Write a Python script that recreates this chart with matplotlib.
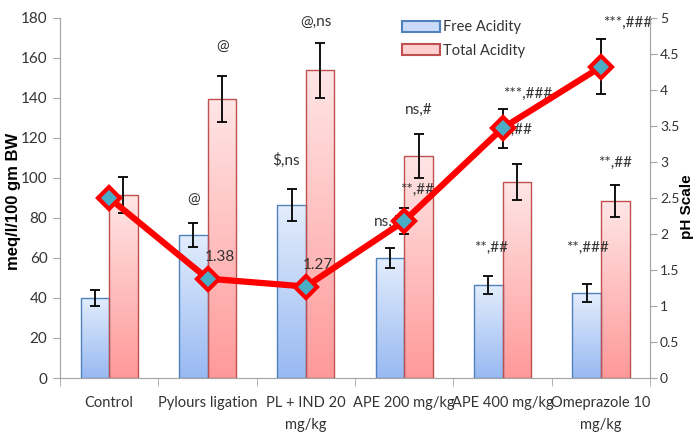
import numpy as np
import matplotlib
matplotlib.use('Agg')
import matplotlib.pyplot as plt
from matplotlib.patches import Patch

plt.rcParams['font.family'] = ['Lato', 'DejaVu Sans']

# data
groups = ['Control', 'Pylours ligation', 'PL + IND 20\nmg/kg',
          'APE 200 mg/kg', 'APE 400 mg/kg', 'Omeprazole 10\nmg/kg']
free_acidity = [40, 71.5, 86.3, 59.8, 46.5, 42.3]
free_err = [4, 6, 8, 5, 4.5, 4.5]
total_acidity = [91.5, 139.5, 153.7, 111.2, 97.8, 88.3]
total_err = [9, 11.5, 13.7, 11, 9, 8]
ph_values = [2.5, 1.38, 1.27, 2.18, 3.47, 4.32]
ph_err = [0, 0, 0, 0.18, 0.27, 0.38]

# significance labels (text, x, y in left-axis units)
annotations = [
    ('@', 0.853, 89), ('@', 1.148, 165.5),
    ('$,ns', 1.80, 109), ('@,ns', 2.10, 177.5),
    ('ns,#', 2.83, 78), ('**,##', 3.13, 94), ('ns,#', 3.15, 134),
    ('**,##', 3.88, 65), ('**,##', 4.13, 124), ('***,###', 4.25, 142),
    ('**,###', 4.86, 65), ('**,##', 5.14, 107.5), ('***,###', 5.27, 177.5),
    ('1.38', 1.13, 60.5), ('1.27', 2.12, 56.5),
]


def gradient_bars(ax, x, heights, width, top_color, bottom_color, edge):
    bars = ax.bar(x, heights, width, facecolor='none', edgecolor=edge,
                  linewidth=1.0, zorder=3)
    grad = np.linspace(0, 1, 256).reshape(-1, 1)
    cmap = matplotlib.colors.LinearSegmentedColormap.from_list(
        'g', [bottom_color, top_color])
    for rect in bars:
        x0, w, h = rect.get_x(), rect.get_width(), rect.get_height()
        im = ax.imshow(grad, extent=[x0, x0 + w, 0, h], origin='lower',
                       cmap=cmap, aspect='auto', zorder=2)
        im.set_clip_path(rect)
    return bars


fig = plt.figure(figsize=(6.96, 4.36), dpi=100)
ax = fig.add_axes([0.0862, 0.133, 0.848, 0.826])

x = np.arange(len(groups))
w = 0.29
text_color = '#333333'

gradient_bars(ax, x - w / 2, free_acidity, w, '#e3edfc', '#98b9f2', '#4f81bd')
gradient_bars(ax, x + w / 2, total_acidity, w, '#ffe6e6', '#ff9999', '#c0504d')
ax.errorbar(x - w / 2, free_acidity, yerr=free_err, fmt='none', ecolor='black',
            elinewidth=1.3, capsize=3.5, capthick=1.3, zorder=4)
ax.errorbar(x + w / 2, total_acidity, yerr=total_err, fmt='none', ecolor='black',
            elinewidth=1.3, capsize=3.5, capthick=1.3, zorder=4)

for txt, tx, ty in annotations:
    ax.text(tx, ty, txt, ha='center', va='center', fontsize=11,
            color=text_color, zorder=5)

ax.set_xlim(-0.5, len(groups) - 0.5)
ax.set_ylim(0, 180)
ax.set_yticks(np.arange(0, 181, 20))
ax.set_xticks(x)
ax.set_xticklabels(groups, fontsize=10.5, color=text_color, linespacing=1.75)
ax.set_xticks(np.arange(-0.5, len(groups)), minor=True)
ax.tick_params(axis='x', which='major', length=0, pad=13)
ax.tick_params(axis='x', which='minor', length=6, color='#a6a6a6', direction='out')
ax.tick_params(axis='y', length=5, color='#a6a6a6', labelsize=11,
               labelcolor=text_color, pad=4)
ax.spines['top'].set_visible(False)
for side in ['left', 'bottom', 'right']:
    ax.spines[side].set_color('#a6a6a6')
ax.set_ylabel('meq/l/100 gm BW', family='Liberation Sans', fontweight='bold',
              fontsize=12, color='black')
ax.yaxis.set_label_coords(-0.0655, 0.49)

ax2 = ax.twinx()
ax2.set_ylim(0, 5)
ax2.set_yticks(np.arange(0, 5.01, 0.5))
ax2.set_yticklabels(['0', '0.5', '1', '1.5', '2', '2.5', '3', '3.5', '4', '4.5', '5'])
ax2.tick_params(axis='y', length=5, color='#a6a6a6', labelsize=10,
                labelcolor=text_color, pad=2)
ax2.spines['top'].set_visible(False)
for side in ['left', 'bottom', 'right']:
    ax2.spines[side].set_color('#a6a6a6')

err_idx = [i for i, e in enumerate(ph_err) if e > 0]
ax2.errorbar([x[i] for i in err_idx], [ph_values[i] for i in err_idx],
             yerr=[ph_err[i] for i in err_idx], fmt='none', ecolor='black',
             elinewidth=1.3, capsize=3.5, capthick=1.3, zorder=2)
ax2.plot(x, ph_values, color='#ff0000', linewidth=4.5, marker='D',
         markersize=11, markerfacecolor='#4bacc6', markeredgecolor='#ff0000',
         markeredgewidth=3, zorder=3)
ax2.set_ylabel('pH Scale', family='Liberation Sans', fontweight='bold',
               fontsize=11, color='black', rotation=90)
ax2.yaxis.set_label_coords(1.05, 0.475)

handles = [Patch(facecolor='#c9dbf8', edgecolor='#4f81bd', linewidth=1.5),
           Patch(facecolor='#ffd0d0', edgecolor='#c0504d', linewidth=1.5)]
ax2.legend(handles, ['Free Acidity', 'Total Acidity'], loc='upper left',
           bbox_to_anchor=(0.557, 1.03), frameon=False, fontsize=10.5,
           handlelength=2.6, handleheight=0.8, handletextpad=0.25,
           labelspacing=0.65, labelcolor=text_color)

fig.savefig('out.png', dpi=100)
